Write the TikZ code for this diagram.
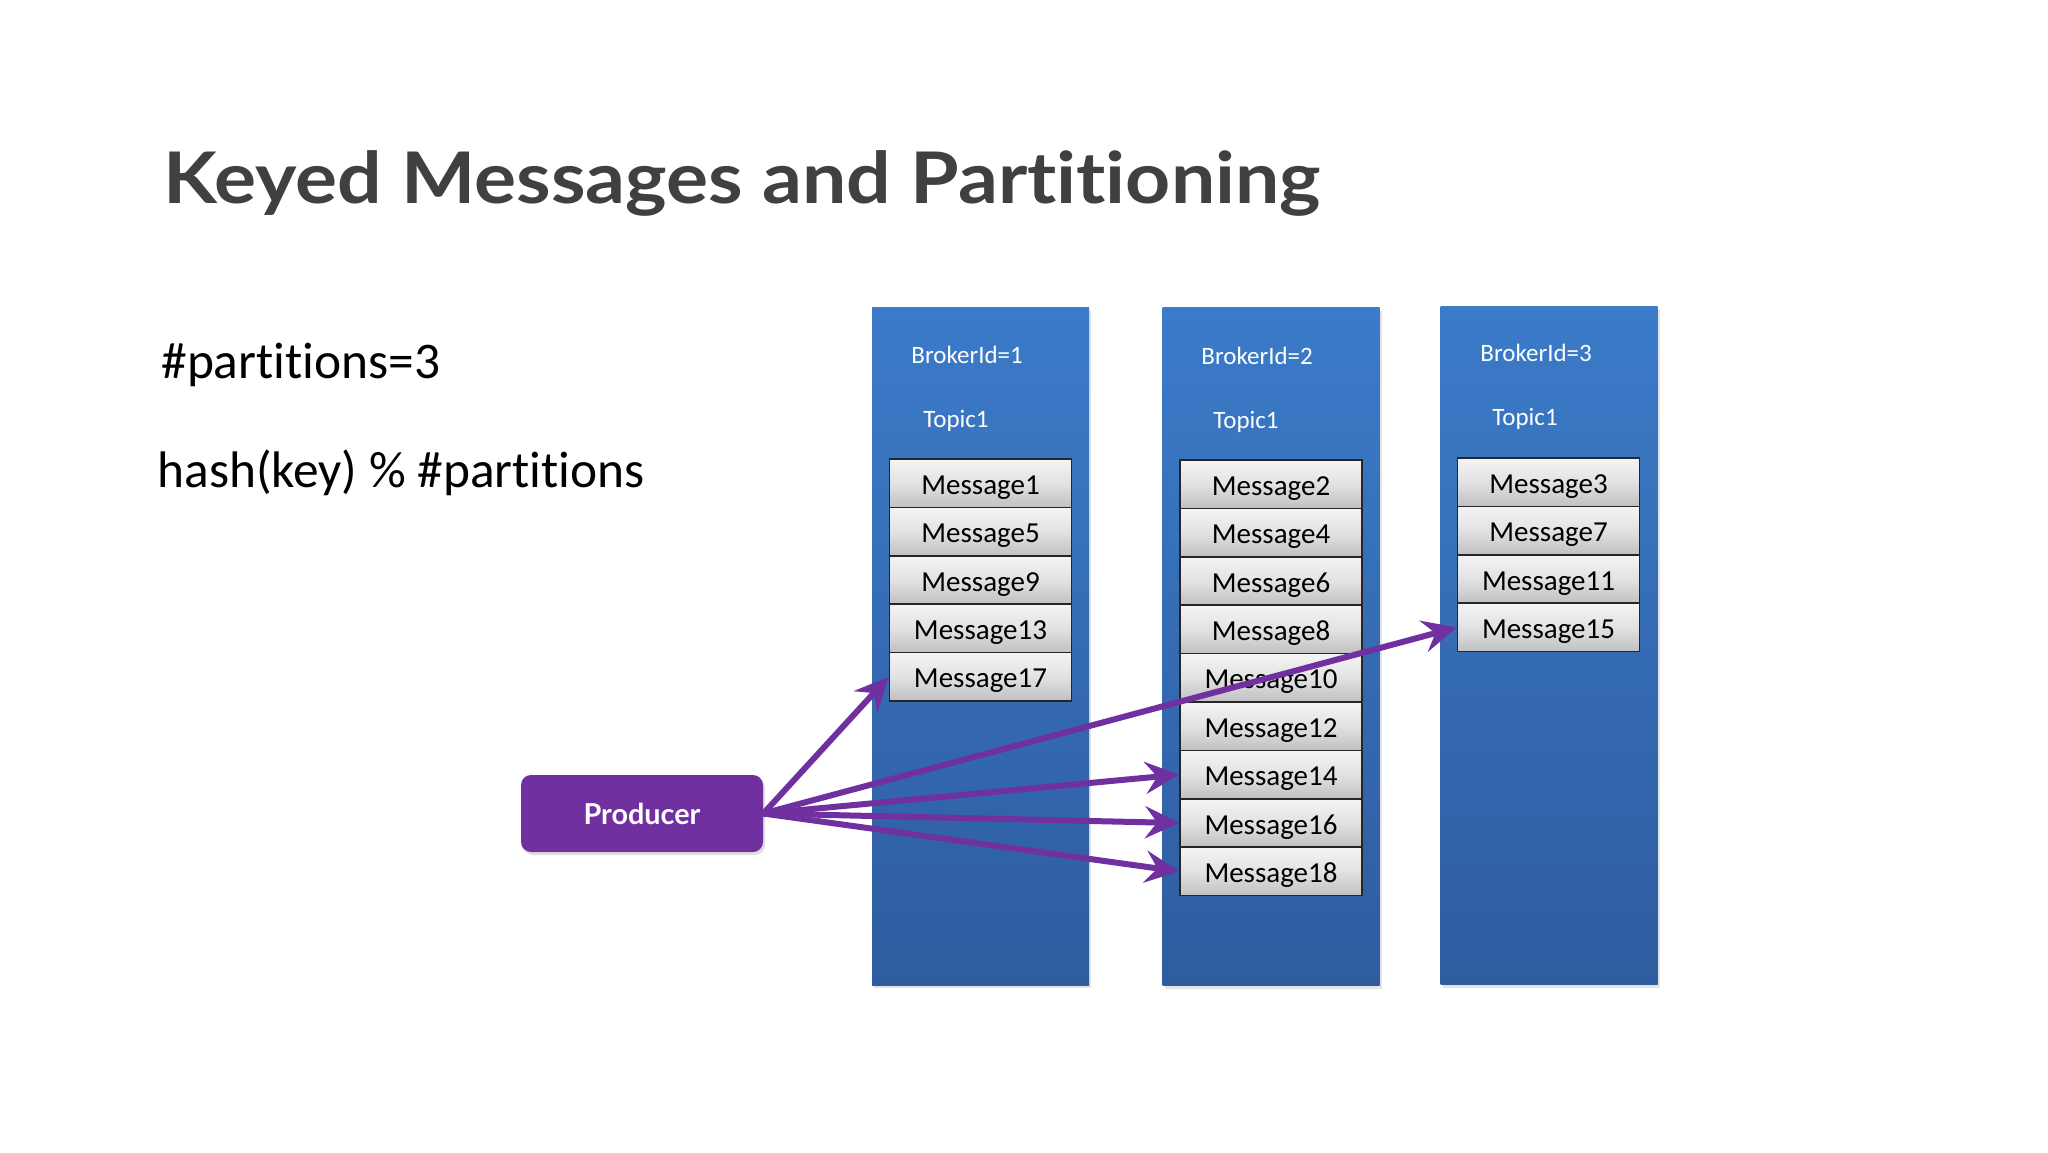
\documentclass[tikz,border=0pt]{standalone}
\usepackage{fontspec}
\setmainfont{Carlito}[RawFeature={-liga;-clig;-calt;-dlig}]
\newfontfamily\latofont{Lato}[RawFeature={-liga;-clig;-calt;-dlig}]
\usetikzlibrary{arrows.meta,shadows}
\definecolor{titlegray}{HTML}{404040}
\definecolor{coltop}{HTML}{3B7BC9}
\definecolor{colbot}{HTML}{2E5C9F}
\definecolor{prodpurple}{HTML}{7030A0}
\definecolor{boxtop}{HTML}{F4F4F4}
\definecolor{boxmid}{HTML}{E2E2E2}
\definecolor{boxbot}{HTML}{C0C0C0}
\begin{document}
\begin{tikzpicture}[x=0.5pt,y=-0.5pt,
  column/.style={rectangle, minimum width=108.5pt, minimum height=339pt, inner sep=0pt,
    top color=coltop, bottom color=colbot, draw=none,
    drop shadow={opacity=0.22, shadow xshift=1pt, shadow yshift=-1.5pt}},
  msg/.style={rectangle, minimum width=91pt, minimum height=24.2pt, inner sep=0pt,
    draw=black!85, line width=0.8pt, top color=boxtop, bottom color=boxbot, middle color=boxmid,
    font=\fontsize{14.5}{14.5}\selectfont, text=black, text depth=0pt, text height=11pt},
  brk/.style={anchor=base west, inner sep=0pt, text=white, font=\fontsize{12.5}{15}\selectfont},
  plain/.style={anchor=base west, inner sep=0pt, text=black, font=\fontsize{25.7}{30}\selectfont},
  prod/.style={rectangle, rounded corners=5pt, minimum width=121pt, minimum height=38.5pt,
    inner sep=0pt, fill=prodpurple, text=white, font=\latofont\bfseries\fontsize{14.4}{16}\selectfont,
    drop shadow={opacity=0.25, shadow xshift=1pt, shadow yshift=-1.5pt}},
  arr/.style={draw=prodpurple, line width=3pt, -{Stealth[length=17pt,width=16pt,inset=6pt]}}
]
\useasboundingbox (0,0) rectangle (2048,1152);
\fill[white] (0,0) rectangle (2048,1152);

\node[anchor=base west, inner sep=0pt, text=titlegray,
  font=\latofont\bfseries\fontsize{35.6}{40}\selectfont] (title) at (163,203)
  {\scalebox{1.105}[1]{Keyed Messages and Partitioning}};

\node[plain] (parts) at (161,378) {\#partitions=3};
\node[plain] (hash) at (157,487) {hash(key) \% \#partitions};

% columns
\node[column] (c1) at (980.5,646) {};
\node[column] (c2) at (1271,646.5) {};
\node[column] (c3) at (1549,645.5) {};

\node[brk] (b1) at (911,363) {BrokerId=1};
\node[brk] (t1) at (923,427) {Topic1};
\node[brk] (b2) at (1201,364) {BrokerId=2};
\node[brk] (t2) at (1213,428) {Topic1};
\node[brk] (b3) at (1480,361) {BrokerId=3};
\node[brk] (t3) at (1492,425) {Topic1};

% messages
\foreach \n [count=\i from 0] in {1,5,9,13,17}
  \node[msg] (m\n) at (980.5,{483.2+48.4*\i}) {Message\n};
\foreach \n [count=\i from 0] in {2,4,6,8,10,12,14,16,18}
  \node[msg] (m\n) at (1271,{484.2+48.4*\i}) {Message\n};
\foreach \n [count=\i from 0] in {3,7,11,15}
  \node[msg] (m\n) at (1548.5,{482.2+48.4*\i}) {Message\n};

% producer
\node[prod] (prod) at (642,813.5) {Producer};

% arrows
\draw[arr] (prod.east) -- (m17.west);
\draw[arr] (prod.east) -- (m15.west);
\draw[arr] (prod.east) -- (m14.west);
\draw[arr] (prod.east) -- (m16.west);
\draw[arr] (prod.east) -- (m18.west);
\end{tikzpicture}
\end{document}
